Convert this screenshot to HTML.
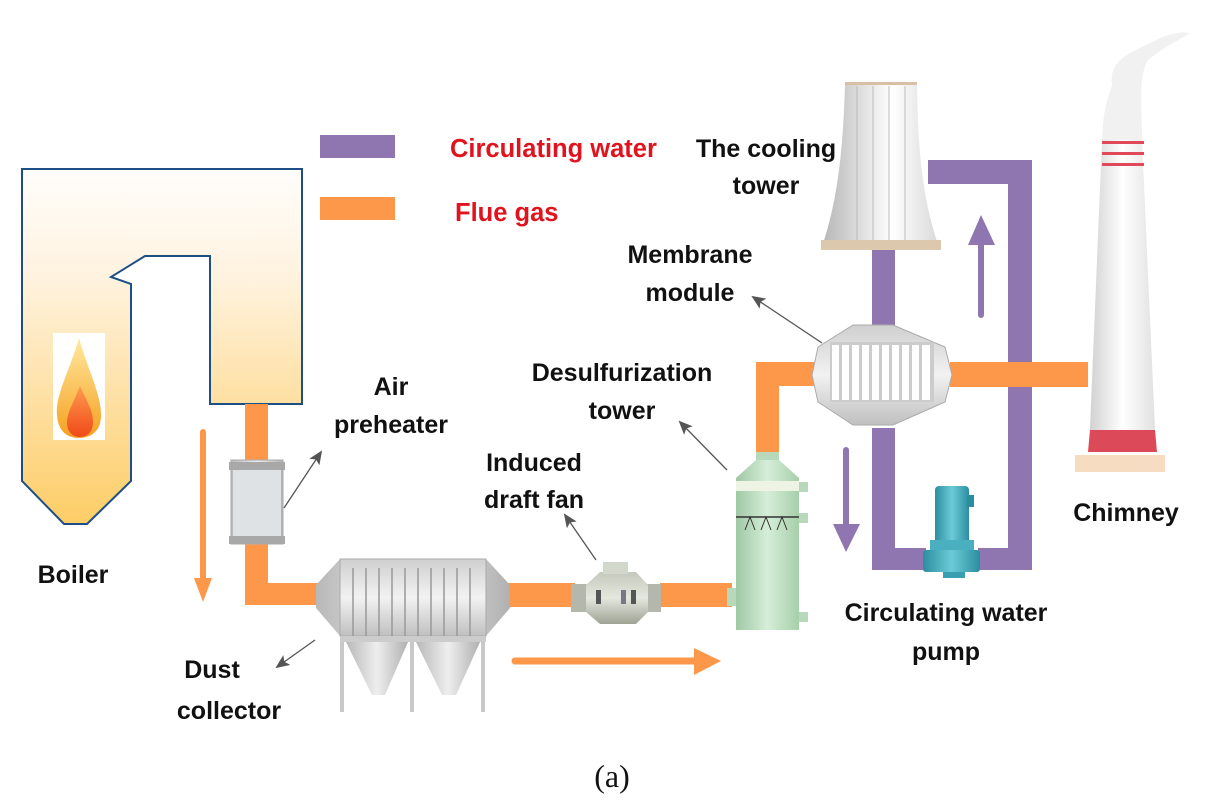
<!DOCTYPE html>
<html><head><meta charset="utf-8"><style>
html,body{margin:0;padding:0;background:#fff;}
svg{display:block;}
.l{font-family:"Liberation Sans",sans-serif;font-weight:bold;font-size:25px;fill:#111;text-anchor:middle;}
.r{font-family:"Liberation Sans",sans-serif;font-weight:bold;font-size:25.5px;fill:#e0141e;}
</style></head><body>
<svg width="1228" height="810" viewBox="0 0 1228 810" xmlns="http://www.w3.org/2000/svg">
<defs>
<linearGradient id="boil" x1="0" y1="0" x2="0" y2="1"><stop offset="0" stop-color="#fffdfb"/><stop offset="0.3" stop-color="#fff3e0"/><stop offset="1" stop-color="#fdcd66"/></linearGradient>
<linearGradient id="flame" x1="0" y1="0" x2="0" y2="1"><stop offset="0" stop-color="#ffe9a0"/><stop offset="1" stop-color="#f6a020"/></linearGradient>
<linearGradient id="flame2" x1="0" y1="0" x2="0" y2="1"><stop offset="0" stop-color="#ff9a50"/><stop offset="1" stop-color="#f04a18"/></linearGradient>
<linearGradient id="metal" x1="0" y1="0" x2="1" y2="0"><stop offset="0" stop-color="#b8b8b8"/><stop offset="0.5" stop-color="#eeeeee"/><stop offset="1" stop-color="#b0b0b0"/></linearGradient>
<linearGradient id="metalv" x1="0" y1="0" x2="0" y2="1"><stop offset="0" stop-color="#cfcfcf"/><stop offset="0.5" stop-color="#f2f2f2"/><stop offset="1" stop-color="#c0c0c0"/></linearGradient>
<linearGradient id="green" x1="0" y1="0" x2="1" y2="0"><stop offset="0" stop-color="#9fc8a4"/><stop offset="0.5" stop-color="#d6eed8"/><stop offset="1" stop-color="#a6cfa9"/></linearGradient>
<linearGradient id="fan" x1="0" y1="0" x2="0" y2="1"><stop offset="0" stop-color="#c5c9bc"/><stop offset="0.5" stop-color="#e4e7dd"/><stop offset="1" stop-color="#9ea394"/></linearGradient>
<linearGradient id="tower" x1="0" y1="0" x2="1" y2="0"><stop offset="0" stop-color="#b5b5b5"/><stop offset="0.6" stop-color="#ffffff"/><stop offset="1" stop-color="#d8d8d8"/></linearGradient>
<linearGradient id="pump" x1="0" y1="0" x2="1" y2="0"><stop offset="0" stop-color="#2b8ea0"/><stop offset="0.5" stop-color="#6ccbd8"/><stop offset="1" stop-color="#2b8ea0"/></linearGradient>
<linearGradient id="chim" x1="0" y1="0" x2="1" y2="0"><stop offset="0" stop-color="#d0d0d0"/><stop offset="0.5" stop-color="#ffffff"/><stop offset="1" stop-color="#e0e0e0"/></linearGradient>
<marker id="ah" markerWidth="14" markerHeight="12" refX="12" refY="6" orient="auto" markerUnits="userSpaceOnUse"><path d="M0,0 L14,6 L0,12 L3,6 Z" fill="#555"/></marker>
</defs>

<rect x="320" y="135" width="75" height="23" fill="#8f76b0"/>
<rect x="320" y="197" width="75" height="23" fill="#fd984a"/>
<text class="r" x="450" y="157">Circulating water</text>
<text class="r" x="455" y="221">Flue gas</text>

<path d="M22,169 L302,169 L302,404 L210,404 L210,256 L145,256 L111,277 L131,284 L131,481 L87,524 L64,524 L22,481 Z" fill="url(#boil)" stroke="#1d4e86" stroke-width="2"/>
<rect x="53" y="333" width="52" height="107" fill="#fff"/>
<path d="M79,338 C70,370 55,395 57,415 C58,432 68,438 79,438 C92,438 102,430 101,413 C100,392 88,370 79,338 Z" fill="url(#flame)"/>
<path d="M80,386 C74,402 67,412 67,423 C67,432 73,437 80,437 C88,437 93,431 93,422 C93,410 86,400 80,386 Z" fill="url(#flame2)"/>

<g fill="#fd984a">
<rect x="245" y="404" width="23" height="200"/>
<rect x="245" y="583" width="75" height="22"/>
<rect x="505" y="583" width="70" height="24"/>
<rect x="660" y="583" width="72" height="24"/>
<rect x="756" y="362" width="23" height="90"/>
<rect x="756" y="362" width="58" height="24"/>
<rect x="950" y="362" width="138" height="25"/>
</g>
<line x1="203" y1="432" x2="203" y2="585" stroke="#fd984a" stroke-width="6" stroke-linecap="round"/>
<path d="M194,578 L212,578 L203,602 Z" fill="#fd984a"/>
<line x1="515" y1="661" x2="700" y2="661" stroke="#fd984a" stroke-width="7" stroke-linecap="round"/>
<path d="M694,648 L721,661 L694,675 Z" fill="#fd984a"/>

<rect x="231" y="460" width="52" height="84" fill="url(#metal)" stroke="#aaa"/>
<rect x="233" y="470" width="48" height="66" fill="#dfe2e4"/>
<rect x="229" y="462" width="56" height="8" fill="#a8a8a8"/>
<rect x="229" y="536" width="56" height="8" fill="#a8a8a8"/>

<path d="M340,559 L486,559 L510,585 L510,608 L486,636 L340,636 L316,608 L316,585 Z" fill="url(#metal)"/>
<rect x="340" y="559" width="146" height="77" fill="url(#metalv)" stroke="#aaa"/>
<g stroke="#999" stroke-width="1.5">
<line x1="353" y1="568" x2="353" y2="636"/><line x1="366" y1="568" x2="366" y2="636"/><line x1="379" y1="568" x2="379" y2="636"/><line x1="392" y1="568" x2="392" y2="636"/><line x1="405" y1="568" x2="405" y2="636"/><line x1="418" y1="568" x2="418" y2="636"/><line x1="431" y1="568" x2="431" y2="636"/><line x1="444" y1="568" x2="444" y2="636"/><line x1="457" y1="568" x2="457" y2="636"/><line x1="470" y1="568" x2="470" y2="636"/>
</g>
<rect x="340" y="636" width="146" height="6" fill="#ccc"/>
<path d="M346,642 L408,642 L385,695 L372,695 Z" fill="url(#metal)"/>
<path d="M416,642 L480,642 L456,695 L442,695 Z" fill="url(#metal)"/>
<g fill="#c8c8c8"><rect x="340" y="642" width="4" height="70"/><rect x="410" y="642" width="4" height="70"/><rect x="481" y="642" width="4" height="70"/></g>

<rect x="571" y="584" width="16" height="28" fill="#b4b8ac"/>
<rect x="645" y="584" width="16" height="28" fill="#b4b8ac"/>
<path d="M600,572 L636,572 L648,585 L648,612 L636,624 L600,624 L586,612 L586,585 Z" fill="url(#fan)"/>
<rect x="603" y="562" width="25" height="12" fill="#d2d8cc"/>
<rect x="596" y="590" width="5" height="14" fill="#555"/><rect x="621" y="590" width="5" height="14" fill="#778"/><rect x="631" y="590" width="5" height="14" fill="#555"/>

<rect x="756" y="452" width="23" height="8" fill="#b7d8ba"/>
<path d="M756,460 L779,460 L799,478 L736,478 Z" fill="url(#green)"/>
<rect x="736" y="478" width="63" height="152" fill="url(#green)"/>
<rect x="736" y="481" width="63" height="10" fill="#eef4e4"/>
<line x1="736" y1="517" x2="799" y2="517" stroke="#333" stroke-width="1.5"/>
<path d="M745,530 L750,517 L755,530 M761,530 L766,517 L771,530 M777,530 L782,517 L787,530" stroke="#333" fill="none"/>
<g fill="#b7d8ba"><rect x="799" y="482" width="9" height="10"/><rect x="799" y="513" width="9" height="10"/><rect x="799" y="612" width="9" height="10"/><rect x="727" y="588" width="9" height="18"/></g>

<g fill="#8f76b0">
<rect x="872" y="250" width="23" height="76"/>
<rect x="872" y="428" width="23" height="142"/>
<rect x="872" y="548" width="54" height="22"/>
<rect x="978" y="548" width="54" height="22"/>
<rect x="1008" y="160" width="24" height="202"/>
<rect x="1008" y="387" width="24" height="183"/>
<rect x="928" y="160" width="104" height="24"/>
</g>
<line x1="981" y1="315" x2="981" y2="235" stroke="#8f76b0" stroke-width="6" stroke-linecap="round"/>
<path d="M968,245 L981,215 L995,245 Z" fill="#8f76b0"/>
<line x1="846" y1="450" x2="846" y2="530" stroke="#8f76b0" stroke-width="6" stroke-linecap="round"/>
<path d="M833,524 L846,552 L860,524 Z" fill="#8f76b0"/>

<path d="M853,325 L893,325 L945,347 L952,375 L945,402 L893,425 L853,425 L818,402 L812,375 L818,347 Z" fill="url(#metalv)" stroke="#aaa"/>
<rect x="830" y="342" width="104" height="60" fill="#ccc"/>
<g fill="#fff"><rect x="832" y="345" width="7" height="55"/><rect x="842" y="345" width="7" height="55"/><rect x="852" y="345" width="7" height="55"/><rect x="862" y="345" width="7" height="55"/><rect x="872" y="345" width="7" height="55"/><rect x="882" y="345" width="7" height="55"/><rect x="892" y="345" width="7" height="55"/><rect x="902" y="345" width="7" height="55"/><rect x="912" y="345" width="7" height="55"/><rect x="922" y="345" width="8" height="55"/></g>

<rect x="923" y="550" width="57" height="22" rx="3" fill="url(#pump)"/>
<rect x="935" y="486" width="34" height="62" rx="4" fill="url(#pump)"/>
<rect x="967" y="495" width="7" height="12" fill="#2b8ea0"/>
<rect x="930" y="540" width="44" height="10" fill="#4ab0c0"/>
<rect x="943" y="572" width="22" height="6" fill="#3a9fb0"/>

<path d="M845,84 L917,84 C918,150 922,200 940,250 L821,250 C838,200 843,150 845,84 Z" fill="url(#tower)"/>
<g stroke="#bbb" stroke-width="1"><line x1="857" y1="86" x2="857" y2="240"/><line x1="873" y1="86" x2="873" y2="240"/><line x1="889" y1="86" x2="889" y2="240"/><line x1="905" y1="86" x2="905" y2="240"/></g>
<rect x="845" y="82" width="72" height="3" fill="#d8c0a4"/>
<rect x="821" y="240" width="120" height="10" fill="#dcc8ac"/>

<path d="M1112,85 C1108,55 1140,50 1160,38 C1175,32 1185,32 1190,33 C1175,42 1160,50 1148,60 C1138,78 1142,100 1142,140 L1102,140 C1103,110 1108,98 1112,85 Z" fill="#eee" opacity="0.85"/>
<path d="M1102,140 L1142,140 L1156,452 L1089,452 Z" fill="url(#chim)"/>
<g fill="#e04a58"><rect x="1102" y="141" width="42" height="3"/><rect x="1102" y="152" width="42" height="3"/><rect x="1102" y="163" width="42" height="3"/></g>
<path d="M1090,430 L1155,430 L1157,452 L1088,452 Z" fill="#dc4a5a"/>
<rect x="1075" y="455" width="90" height="17" fill="#f6dcc0"/>

<g stroke="#555" stroke-width="1.3" fill="none">
<line x1="284" y1="508" x2="321" y2="452" marker-end="url(#ah)"/>
<line x1="596" y1="560" x2="565" y2="515" marker-end="url(#ah)"/>
<line x1="727" y1="470" x2="680" y2="422" marker-end="url(#ah)"/>
<line x1="822" y1="343" x2="753" y2="297" marker-end="url(#ah)"/>
<line x1="315" y1="640" x2="277" y2="667" marker-end="url(#ah)"/>
</g>

<text class="l" x="766" y="157">The cooling</text>
<text class="l" x="766" y="194">tower</text>
<text class="l" x="690" y="263">Membrane</text>
<text class="l" x="690" y="301">module</text>
<text class="l" x="622" y="381">Desulfurization</text>
<text class="l" x="622" y="419">tower</text>
<text class="l" x="391" y="395">Air</text>
<text class="l" x="391" y="433">preheater</text>
<text class="l" x="534" y="471">Induced</text>
<text class="l" x="534" y="508">draft fan</text>
<text class="l" x="73" y="583">Boiler</text>
<text class="l" x="212" y="678">Dust</text>
<text class="l" x="229" y="719">collector</text>
<text class="l" x="1126" y="521">Chimney</text>
<text class="l" x="946" y="621">Circulating water</text>
<text class="l" x="946" y="660">pump</text>
<text x="612" y="787" text-anchor="middle" font-family="Liberation Serif,serif" font-size="32" fill="#111">(a)</text>
</svg>
</body></html>
